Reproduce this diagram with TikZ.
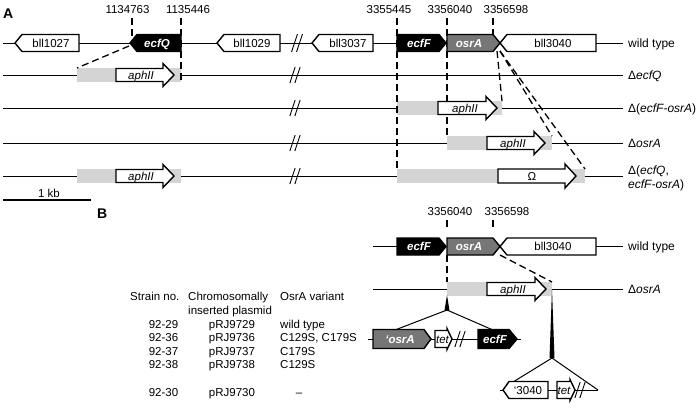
\documentclass[tikz,border=0pt]{standalone}
\usepackage{fontspec}
\setmainfont{Liberation Sans}
\definecolor{osrgray}{RGB}{118,118,118}
\definecolor{lightbar}{RGB}{212,212,212}
\newcommand{\GR}[6]{\draw[#1] (#2,#4-#5) -- (#3-#6,#4-#5) -- (#3,#4) -- (#3-#6,#4+#5) -- (#2,#4+#5) -- cycle;}
\newcommand{\GL}[6]{\draw[#1] (#2,#4) -- (#2+#6,#4-#5) -- (#3,#4-#5) -- (#3,#4+#5) -- (#2+#6,#4+#5) -- cycle;}
\newcommand{\AR}[6]{\draw[gene] (#1,#3-#4) -- (#2-#6,#3-#4) -- (#2-#6,#3-#5) -- (#2,#3) -- (#2-#6,#3+#5) -- (#2-#6,#3+#4) -- (#1,#3+#4) -- cycle;}
\newcommand{\brk}[3]{\draw[bb] (#1-2.5-#3*0.33,#2+#3) -- (#1-2.5+#3*0.33,#2-#3) (#1+2.5-#3*0.33,#2+#3) -- (#1+2.5+#3*0.33,#2-#3);}
\tikzset{
 bb/.style={line width=0.9pt},
 gene/.style={draw=black, line width=1.4pt, fill=white, line join=miter},
 blk/.style={gene, fill=black},
 gry/.style={gene, fill=osrgray},
 tx/.style={font=\fontsize{11.5}{13}\selectfont, inner sep=0pt, anchor=base},
 lbl/.style={font=\fontsize{12}{13}\selectfont, inner sep=0pt, anchor=base west},
 wtx/.style={inner sep=0pt, anchor=base, text=white, font=\fontsize{11.5}{13}\selectfont\bfseries\itshape},
 itx/.style={tx, font=\fontsize{11.5}{13}\selectfont\itshape},
 dsh/.style={dash pattern=on 7pt off 4pt, line width=1.3pt},
 bar/.style={fill=lightbar, draw=none},
 ins/.style={line width=1pt, line join=miter},
 panel/.style={inner sep=0pt, anchor=base west, font=\fontsize{14}{14}\selectfont\bfseries}
}
\begin{document}
\begin{tikzpicture}[x=1pt,y=-1pt]
\useasboundingbox (0,0) rectangle (699,408);
% ---------- panel A ----------
\node[panel] (A) at (3,18) {A};
\node[tx] (p1) at (127.5,13) {1134763};
\node[tx] (p2) at (188,13) {1135446};
\node[tx] (p3) at (389,13) {3355445};
\node[tx] (p4) at (450,13) {3356040};
\node[tx] (p5) at (506,13) {3356598};
% backbones
\draw[bb] (3,43) -- (623,43);
\draw[bb] (3,75) -- (623,75);
\draw[bb] (3,108) -- (623,108);
\draw[bb] (3,143) -- (623,143);
\draw[bb] (3,176) -- (623,176);
% gray bars
\fill[bar] (77,68) rectangle (181,82);
\fill[bar] (397,101) rectangle (502,115);
\fill[bar] (447,136) rectangle (552,150);
\fill[bar] (77,169) rectangle (181,183);
\fill[bar] (397,169) rectangle (585,183);
% dashed guides
\draw[dsh] (132,18) -- (132,36);
\draw[dsh] (181,18) -- (181,82);
\draw[dsh] (129,46) -- (77,68);
\draw[dsh] (397,18) -- (397,169);
\draw[dsh] (447,18) -- (447,136);
\draw[dsh] (493,18) -- (493,36);
\draw[dsh] (497,51) -- (502,101);
\draw[dsh] (500,51) -- (552,136);
\draw[dsh] (500,51) -- (585,169);
% breaks
\brk{297}{43}{9}
\brk{295}{75}{8}
\brk{295}{108}{8}
\brk{295}{143}{8}
\brk{295}{176}{8}
% wild-type genes
\GL{gene}{15}{79}{43}{8.5}{7}
\node[tx] (g1) at (51,47) {bll1027};
\GL{blk}{130}{181}{43}{8.5}{7}
\node[wtx] (g2) at (157,47) {ecfQ};
\GL{gene}{217}{280}{43}{8.5}{7}
\node[tx] (g3) at (252,47) {bll1029};
\GL{gene}{312}{373}{43}{8.5}{7}
\node[tx] (g4) at (348,47) {bll3037};
\GR{blk}{397}{446}{43}{8.5}{7}
\node[wtx] (g5) at (419,47) {ecfF};
\GR{gry}{447}{500}{43}{8.5}{7}
\node[wtx] (g6) at (469,47) {osrA};
\GL{gene}{500}{596}{43}{8.5}{7}
\node[tx] (g7) at (553,47) {bll3040};
% mutant cassettes
\AR{116}{174}{75}{6.5}{11.5}{11}
\node[itx] (a1) at (141,79) {aphII};
\AR{438}{497}{108}{6.5}{11.5}{11}
\node[itx] (a2) at (465,112) {aphII};
\AR{487}{545}{143}{6.5}{11.5}{11}
\node[itx] (a3) at (513,147) {aphII};
\AR{116}{174}{176}{6.5}{11.5}{11}
\node[itx] (a4) at (141,180) {aphII};
\AR{498}{576}{176}{7}{12}{11}
\node[tx] (a5) at (532,180) {Ω};
% row labels
\node[lbl] (r1) at (628,47) {wild type};
\node[lbl] (r2) at (628,79) {Δ\textit{ecfQ}};
\node[lbl] (r3) at (628,112) {Δ(\textit{ecfF-osrA})};
\node[lbl] (r4) at (628,147) {Δ\textit{osrA}};
\node[lbl] (r5) at (628,174) {Δ(\textit{ecfQ},};
\node[lbl] (r6) at (628,188) {\textit{ecfF-osrA})};
% scale bar
\draw[line width=1.2pt] (3,200) -- (91,200);
\node[tx] (kb) at (49,197) {1 kb};
% ---------- panel B ----------
\node[panel] (B) at (97,218) {B};
\node[tx] (q1) at (450,215) {3356040};
\node[tx] (q2) at (507,215) {3356598};
\draw[dsh] (447,220) -- (447,227);
\draw[dsh] (493,220) -- (493,227);
\draw[bb] (373,246.5) -- (623,246.5);
\draw[bb] (373,289) -- (623,289);
\fill[bar] (447,282) rectangle (552,296);
\draw[dsh] (447,255) -- (447,282);
\draw[dsh] (500,255) -- (552,282);
\GR{blk}{397}{446}{246.5}{8.5}{7}
\node[wtx] (h1) at (419,250.5) {ecfF};
\GR{gry}{447}{500}{246.5}{8.5}{7}
\node[wtx] (h2) at (469,250.5) {osrA};
\GL{gene}{500}{596}{246.5}{8.5}{7}
\node[tx] (h3) at (553,250.5) {bll3040};
\AR{487}{546}{289}{6.5}{11.5}{11}
\node[itx] (h4) at (513,293) {aphII};
\node[lbl] (s1) at (628,250.5) {wild type};
\node[lbl] (s2) at (628,293) {Δ\textit{osrA}};
% insertion 1
\fill (447,295) -- (444.5,310.5) -- (449.5,310.5) -- cycle;
\draw[ins] (395,330) -- (447,310) -- (493,330);
\draw[bb] (368,339) -- (521,339);
\brk{460}{339}{8}
\GR{gry}{373}{431}{339}{9.5}{7}
\node[wtx] (i1) at (400,343) {‘osrA};
\AR{435}{452}{339}{8.5}{10.5}{5}
\node[itx] (i2) at (442.5,343) {tet};
\GR{blk}{478}{517}{339}{9.5}{8}
\node[wtx] (i3) at (495,343) {ecfF};
% insertion 2
\fill (552,289) -- (549.5,358) -- (554.5,358) -- cycle;
\draw[ins] (513,382) -- (552,358) -- (598,390);
\draw[bb] (500,390) -- (598,390);
\brk{580}{390}{8}
\GL{gene}{503}{548}{390}{8.5}{6}
\node[tx] (j1) at (528,394) {‘3040};
\AR{557}{575}{390}{8.5}{10.5}{5}
\node[itx] (j2) at (564,394) {tet};
% table
\node[tx,anchor=base west] (t1) at (130,300) {Strain no.};
\node[tx,anchor=base west] (t2) at (188,300) {Chromosomally};
\node[tx,anchor=base west] (t3) at (188,314) {inserted plasmid};
\node[tx,anchor=base west] (t4) at (280,300) {OsrA variant};
\node[tx] (n1) at (163.5,328) {92-29};
\node[tx] (n2) at (163.5,341.5) {92-36};
\node[tx] (n3) at (163.5,355) {92-37};
\node[tx] (n4) at (163.5,368) {92-38};
\node[tx] (n5) at (163.5,396) {92-30};
\node[tx] (m1) at (232,328) {pRJ9729};
\node[tx] (m2) at (232,341.5) {pRJ9736};
\node[tx] (m3) at (232,355) {pRJ9737};
\node[tx] (m4) at (232,368) {pRJ9738};
\node[tx] (m5) at (232,396) {pRJ9730};
\node[tx,anchor=base west] (v1) at (280,328) {wild type};
\node[tx,anchor=base west] (v2) at (280,341.5) {C129S, C179S};
\node[tx,anchor=base west] (v3) at (280,355) {C179S};
\node[tx,anchor=base west] (v4) at (280,368) {C129S};
\node[tx] (v5) at (299,396) {–};
\end{tikzpicture}
\end{document}
